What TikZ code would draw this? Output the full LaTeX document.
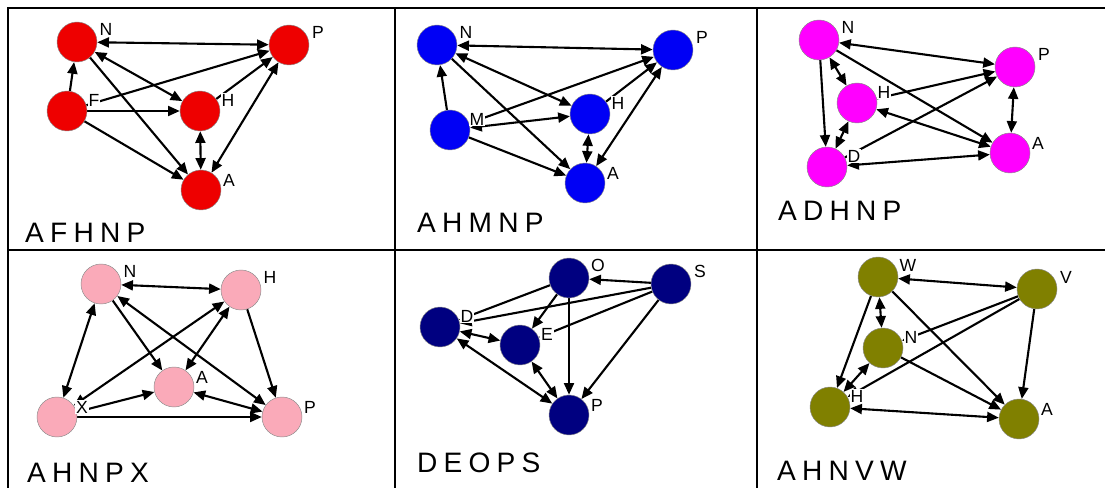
\documentclass[tikz,border=0pt]{standalone}
\usepackage{fontspec}
\setmainfont{Liberation Sans}
\newfontfamily\titlefont[LetterSpace=22]{Liberation Sans}
\usetikzlibrary{arrows.meta,backgrounds}
\definecolor{vred}{RGB}{238,0,0}
\definecolor{vblue}{RGB}{0,0,245}
\definecolor{vmagenta}{RGB}{255,0,255}
\definecolor{vpink}{RGB}{250,170,185}
\definecolor{vnavy}{RGB}{0,0,128}
\definecolor{volive}{RGB}{128,128,0}
\begin{document}
\begin{tikzpicture}[x=0.03cm,y=-0.03cm,>={Triangle[length=10pt,width=8.5pt]}]
\tikzstyle{vtx}=[circle,minimum size=1.2cm,inner sep=0pt,draw=black!45,line width=0.4pt]
\tikzstyle{lbl}=[fill=white,inner sep=0.6pt,font=\fontsize{15}{15}\selectfont]
\tikzstyle{ttl}=[anchor=base west,inner sep=0pt,font=\titlefont\fontsize{24}{24}\selectfont]
\tikzstyle{rule}=[line width=2pt]
\tikzstyle{arc}=[line width=1.8pt]
\useasboundingbox (0,0) rectangle (1105,488);
\draw[rule] (8,488) -- (8,8) -- (1105,8);
\draw[rule] (395,8) -- (395,488);
\draw[rule] (757,8) -- (757,488);
\draw[rule] (8,250) -- (1105,250);
\node[ttl](t1) at (25,243) {AFHNP};
\node[ttl](t2) at (417,233) {AHMNP};
\node[ttl](t3) at (778,221) {ADHNP};
\node[ttl](t4) at (27,482) {AHNPX};
\node[ttl](t5) at (417,472) {DEOPS};
\node[ttl](t6) at (777,480) {AHNVW};
\node[vtx,fill=vred](aN) at (77,42) {};
\node[vtx,fill=vred](aP) at (289,45) {};
\node[vtx,fill=vred](aF) at (67,111) {};
\node[vtx,fill=vred](aH) at (200,111) {};
\node[vtx,fill=vred](aA) at (201,190) {};
\node[vtx,fill=vblue](bN) at (437,45) {};
\node[vtx,fill=vblue](bP) at (673,50) {};
\node[vtx,fill=vblue](bM) at (450,130) {};
\node[vtx,fill=vblue](bH) at (590,114) {};
\node[vtx,fill=vblue](bA) at (585,183) {};
\node[vtx,fill=vmagenta](cN) at (819,40) {};
\node[vtx,fill=vmagenta](cP) at (1015,67) {};
\node[vtx,fill=vmagenta](cH) at (857,103) {};
\node[vtx,fill=vmagenta](cA) at (1010,153) {};
\node[vtx,fill=vmagenta](cD) at (827,167) {};
\node[vtx,fill=vpink](dN) at (101,284) {};
\node[vtx,fill=vpink](dH) at (241,290) {};
\node[vtx,fill=vpink](dA) at (174,387) {};
\node[vtx,fill=vpink](dX) at (57,417) {};
\node[vtx,fill=vpink](dP) at (282,417) {};
\node[vtx,fill=vnavy](eO) at (569,278) {};
\node[vtx,fill=vnavy](eS) at (671,284) {};
\node[vtx,fill=vnavy](eD) at (440,327) {};
\node[vtx,fill=vnavy](eE) at (520,345) {};
\node[vtx,fill=vnavy](eP) at (569,415) {};
\node[vtx,fill=volive](fW) at (878,277) {};
\node[vtx,fill=volive](fV) at (1037,289) {};
\node[vtx,fill=volive](fN) at (883,348) {};
\node[vtx,fill=volive](fH) at (830,407) {};
\node[vtx,fill=volive](fA) at (1019,419) {};
\node[lbl](aNl) at ([shift={(29,-13)}]aN) {N};
\node[lbl](aPl) at ([shift={(29,-13)}]aP) {P};
\node[lbl](aFl) at ([shift={(27,-11)}]aF) {F};
\node[lbl](aHl) at ([shift={(28,-11)}]aH) {H};
\node[lbl](aAl) at ([shift={(28,-10)}]aA) {A};
\node[lbl](bNl) at ([shift={(29,-13)}]bN) {N};
\node[lbl](bPl) at ([shift={(29,-13)}]bP) {P};
\node[lbl](bMl) at ([shift={(27,-11)}]bM) {M};
\node[lbl](bHl) at ([shift={(28,-11)}]bH) {H};
\node[lbl](bAl) at ([shift={(28,-10)}]bA) {A};
\node[lbl](cNl) at ([shift={(29,-13)}]cN) {N};
\node[lbl](cPl) at ([shift={(29,-13)}]cP) {P};
\node[lbl](cHl) at ([shift={(27,-11)}]cH) {H};
\node[lbl](cAl) at ([shift={(28,-10)}]cA) {A};
\node[lbl](cDl) at ([shift={(27,-11)}]cD) {D};
\node[lbl](dNl) at ([shift={(29,-13)}]dN) {N};
\node[lbl](dHl) at ([shift={(29,-13)}]dH) {H};
\node[lbl](dAl) at ([shift={(28,-10)}]dA) {A};
\node[lbl](dXl) at ([shift={(25,-10)}]dX) {X};
\node[lbl](dPl) at ([shift={(28,-10)}]dP) {P};
\node[lbl](eOl) at ([shift={(29,-13)}]eO) {O};
\node[lbl](eSl) at ([shift={(29,-13)}]eS) {S};
\node[lbl](eDl) at ([shift={(27,-11)}]eD) {D};
\node[lbl](eEl) at ([shift={(27,-11)}]eE) {E};
\node[lbl](ePl) at ([shift={(28,-10)}]eP) {P};
\node[lbl](fWl) at ([shift={(30,-12)}]fW) {W};
\node[lbl](fVl) at ([shift={(29,-12)}]fV) {V};
\node[lbl](fNl) at ([shift={(28,-11)}]fN) {N};
\node[lbl](fHl) at ([shift={(27,-11)}]fH) {H};
\node[lbl](fAl) at ([shift={(28,-10)}]fA) {A};
\begin{scope}[on background layer]
\draw[arc,<->] (aN) -- (aP);
\draw[arc,->] (aF) -- (aN);
\draw[arc,->] (aF) -- (aP);
\draw[arc,->] (aF) -- (aH);
\draw[arc,->] (aF) -- (aA);
\draw[arc,<->] (aN) -- (aH);
\draw[arc,->] (aN) -- (aA);
\draw[arc,->] (aH) -- (aP);
\draw[arc,<->] (aH) -- (aA);
\draw[arc,<->] (aA) -- (aP);
\draw[arc,<->] (bN) -- (bP);
\draw[arc,->] (bM) -- (bN);
\draw[arc,->] (bM) -- (bP);
\draw[arc,<->] (bM) -- (bH);
\draw[arc,->] (bM) -- (bA);
\draw[arc,<->] (bN) -- (bH);
\draw[arc,->] (bN) -- (bA);
\draw[arc,->] (bH) -- (bP);
\draw[arc,<->] (bH) -- (bA);
\draw[arc,<->] (bA) -- (bP);
\draw[arc,<->] (cN) -- (cP);
\draw[arc,->] (cN) -- (cD);
\draw[arc,<->] (cN) -- (cH);
\draw[arc,->] (cN) -- (cA);
\draw[arc,->] (cH) -- (cP);
\draw[arc,<->] (cH) -- (cA);
\draw[arc,->] (cD) -- (cP);
\draw[arc,<->] (cD) -- (cH);
\draw[arc,<->] (cD) -- (cA);
\draw[arc,<->] (cP) -- (cA);
\draw[arc,<->] (dN) -- (dH);
\draw[arc,<->] (dN) -- (dX);
\draw[arc,->] (dN) -- (dA);
\draw[arc,<->] (dN) -- (dP);
\draw[arc,<->] (dX) -- (dH);
\draw[arc,<->] (dH) -- (dA);
\draw[arc,->] (dH) -- (dP);
\draw[arc,->] (dX) -- (dA);
\draw[arc,->] (dX) -- (dP);
\draw[arc,<->] (dA) -- (dP);
\draw[arc,->] (eS) -- (eO);
\draw[arc,->] (eO) -- (eD);
\draw[arc,->] (eS) -- (eD);
\draw[arc,->] (eO) -- (eE);
\draw[arc,->] (eO) -- (eP);
\draw[arc,->] (eS) -- (eE);
\draw[arc,->] (eS) -- (eP);
\draw[arc,<->] (eD) -- (eE);
\draw[arc,<->] (eD) -- (eP);
\draw[arc,<->] (eE) -- (eP);
\draw[arc,<->] (fW) -- (fV);
\draw[arc,<->] (fW) -- (fN);
\draw[arc,->] (fW) -- (fH);
\draw[arc,->] (fW) -- (fA);
\draw[arc,->] (fV) -- (fN);
\draw[arc,->] (fV) -- (fH);
\draw[arc,->] (fV) -- (fA);
\draw[arc,<->] (fN) -- (fH);
\draw[arc,->] (fN) -- (fA);
\draw[arc,<->] (fH) -- (fA);
\end{scope}
\end{tikzpicture}
\end{document}
